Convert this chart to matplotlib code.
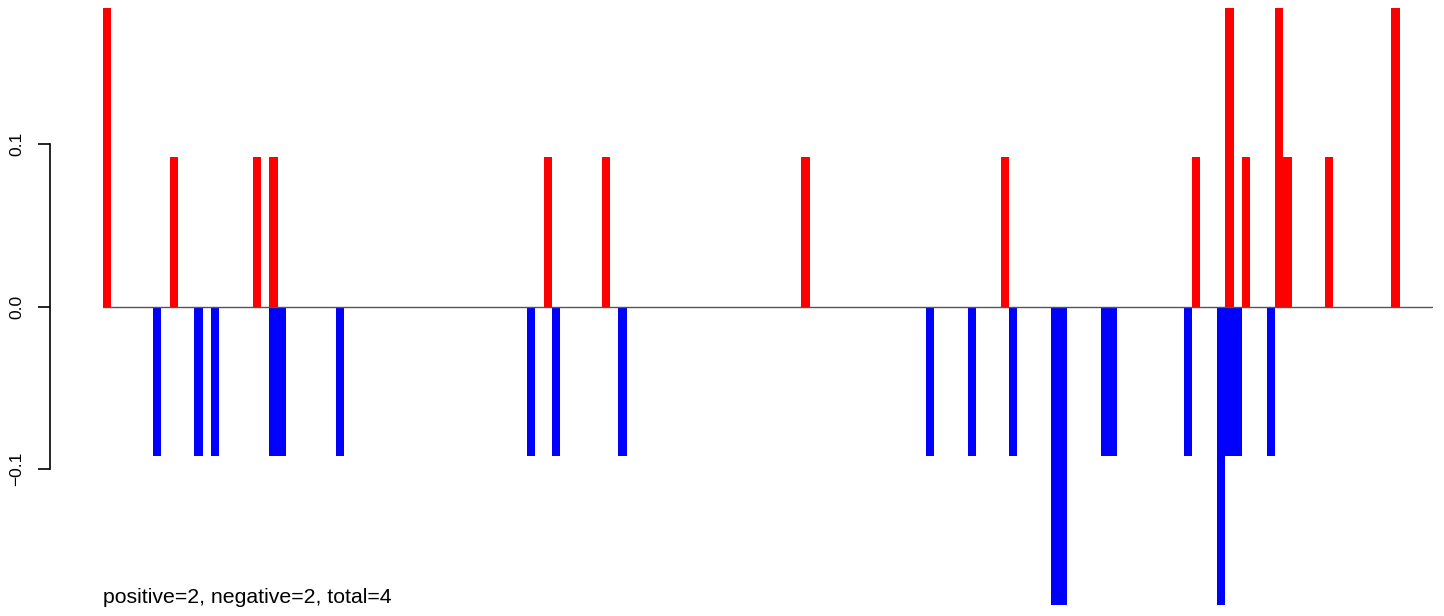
import matplotlib
matplotlib.use("Agg")
import matplotlib.pyplot as plt

plt.rcParams['font.family'] = ['Liberation Sans', 'DejaVu Sans']

# bar slot index and value (slot i covers [i, i+1])
pos_idx = [0, 8, 18, 20, 53, 60, 84, 108, 131, 135, 137, 141, 142, 147, 155]
pos_val = [0.1834, 0.0917, 0.0917, 0.0917, 0.0917, 0.0917, 0.0917, 0.0917,
           0.0917, 0.1834, 0.0917, 0.1834, 0.0917, 0.0917, 0.1834]
neg_idx = [6, 11, 13, 20, 21, 28, 51, 54, 62, 99, 104, 109, 114, 115, 120,
           121, 130, 134, 135, 136, 140]
neg_val = [-0.0917, -0.0917, -0.0917, -0.0917, -0.0917, -0.0917, -0.0917,
           -0.0917, -0.0917, -0.0917, -0.0917, -0.0917, -0.1834, -0.1834,
           -0.0917, -0.0917, -0.0917, -0.1834, -0.0917, -0.0917, -0.0917]
n_slots = 160
yticks = [-0.1, 0.0, 0.1]
ytick_labels = ["\u22120.1", "0.0", "0.1"]
note = "positive=2, negative=2, total=4"

W, H = 1444, 616
fig = plt.figure(figsize=(W / 100, H / 100), dpi=100)
ax = fig.add_axes([103 / W, (H - 605) / H, (1433 - 103) / W, (605 - 8) / H])

ax.bar(neg_idx, neg_val, width=1, align='edge', color='blue', linewidth=0)
ax.bar(pos_idx, pos_val, width=1, align='edge', color='red', linewidth=0)
ax.axhline(0, color='#555555', linewidth=1)

ax.set_xlim(0, n_slots)
ax.set_ylim(-0.1834, 0.1834)

for s in ['top', 'right', 'bottom']:
    ax.spines[s].set_visible(False)
ax.spines['left'].set_position(('outward', 53 * 0.72))
ax.spines['left'].set_bounds(-0.1, 0.1)
ax.spines['left'].set_linewidth(1.2)
ax.set_xticks([])
ax.set_yticks(yticks)
ax.set_yticklabels(ytick_labels, rotation=90, va='center', fontsize=12.5)
ax.tick_params(axis='y', length=12 * 0.72, width=1.2, pad=10)

fig.text(103 / W, (H - 603) / H, note, fontsize=15.3, ha='left', va='baseline')

fig.savefig("out.png", dpi=100)
